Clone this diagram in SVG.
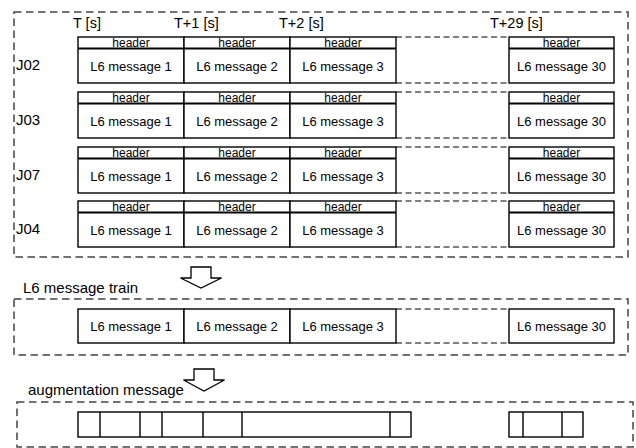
<svg xmlns="http://www.w3.org/2000/svg" width="636" height="448" viewBox="0 0 636 448">
<style>
text{font-family:"Liberation Sans",Arial,sans-serif;fill:#000}
.frame{fill:none;stroke:#444;stroke-width:1.5;stroke-dasharray:7.5 4.5}
.cell{fill:#fff;stroke:#000;stroke-width:1.4}
.hdr{stroke:#000;stroke-width:2;fill:none}
.gap{fill:none;stroke:#000;stroke-width:1.2;stroke-dasharray:6 3.5}
.h{font-size:12px;text-anchor:middle}
.m{font-size:13px;text-anchor:middle}
.lbl{font-size:15px}
.t{font-size:14.5px}
.arrow{fill:#fff;stroke:#000;stroke-width:1.3;stroke-linejoin:miter}
</style>
<defs>
<g id="row">
<rect class="cell" x="78" y="0" width="106" height="46"/>
<rect class="cell" x="184" y="0" width="106" height="46"/>
<rect class="cell" x="290" y="0" width="106" height="46"/>
<rect class="cell" x="509" y="0" width="105" height="46"/>
<path class="hdr" d="M78 11.5H396M509 11.5H614"/>
<path class="gap" d="M396 0H509M396 46H509"/>
<text class="h" x="131" y="9.8">header</text>
<text class="h" x="237" y="9.8">header</text>
<text class="h" x="343" y="9.8">header</text>
<text class="h" x="561.5" y="9.8">header</text>
<text class="m" x="131" y="33.5">L6 message 1</text>
<text class="m" x="237" y="33.5">L6 message 2</text>
<text class="m" x="343" y="33.5">L6 message 3</text>
<text class="m" x="561.5" y="33.5">L6 message 30</text>
</g>
</defs>

<g id="stations">
<rect class="frame" x="14" y="12" width="614" height="245"/>
<text class="t" x="73" y="28">T [s]</text>
<text class="t" x="174" y="28">T+1 [s]</text>
<text class="t" x="279" y="28">T+2 [s]</text>
<text class="t" x="490" y="28">T+29 [s]</text>
</g>
<g id="J02"><use href="#row" y="37"/><text class="lbl" x="16" y="70">J02</text></g>
<g id="J03"><use href="#row" y="92"/><text class="lbl" x="16" y="125">J03</text></g>
<g id="J07"><use href="#row" y="147"/><text class="lbl" x="16" y="180">J07</text></g>
<g id="J04"><use href="#row" y="201"/><text class="lbl" x="16" y="234">J04</text></g>

<g id="train">
<rect class="frame" x="14" y="299" width="614" height="56"/>
<text class="lbl" x="23" y="293">L6 message train</text>
<rect class="cell" x="78" y="309" width="106" height="34"/>
<rect class="cell" x="184" y="309" width="106" height="34"/>
<rect class="cell" x="290" y="309" width="106" height="34"/>
<rect class="cell" x="509" y="309" width="105" height="34"/>
<path class="gap" d="M396 309H509M396 343H509"/>
<text class="m" x="131" y="331">L6 message 1</text>
<text class="m" x="237" y="331">L6 message 2</text>
<text class="m" x="343" y="331">L6 message 3</text>
<text class="m" x="561.5" y="331">L6 message 30</text>
</g>

<g id="augmentation">
<rect class="frame" x="17" y="402" width="616" height="45"/>
<text class="lbl" x="28" y="395">augmentation message</text>
<rect class="cell" x="78" y="412" width="333" height="25"/>
<path class="cell" d="M100 412V437M140 412V437M162 412V437M203 412V437M242 412V437M390 412V437"/>
<rect class="cell" x="509" y="412" width="74" height="25"/>
<path class="cell" d="M523 412V437M562 412V437"/>
</g>

<g id="connectors">
<path class="arrow" d="M191 267H211V278H221.5L201 288L180.5 278H191Z"/>
<path class="arrow" d="M194 369H214V380H224.5L204 391L183.5 380H194Z"/>
</g>
</svg>
